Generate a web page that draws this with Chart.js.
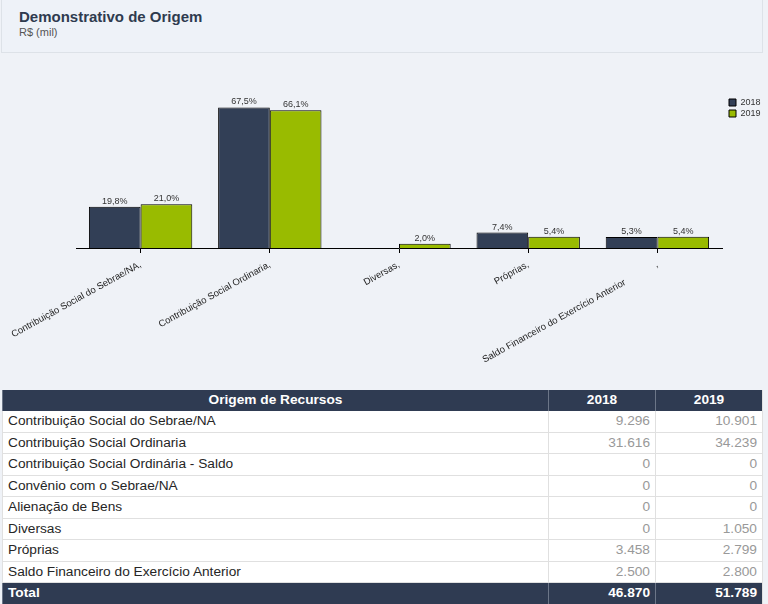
<!DOCTYPE html>
<html>
<head>
<meta charset="utf-8">
<script src="https://cdn.jsdelivr.net/npm/chart.js@4/dist/chart.umd.min.js"></script>
<style>
  html, body { margin: 0; padding: 0; }
  body { width: 768px; height: 604px; background: #eff2f7; position: relative; overflow: hidden;
         font-family: "Liberation Sans", Arial, sans-serif; }
  #head { position: absolute; left: 1px; top: 0; width: 760px; height: 52px; background: #eef2f8;
          border: 1px solid #dde2e8; border-top: none; }
  #title { position: absolute; left: 17px; top: 8px; font-size: 15px; font-weight: bold; color: #2f3b4f; }
  #sub { position: absolute; left: 17px; top: 26px; font-size: 11px; color: #555; }
  #chartbox { position: absolute; left: 0; top: 56px; width: 768px; height: 330px; }
  #tbl { position: absolute; left: 2px; top: 390px; width: 761px; font-size: 13.7px; }
  .row { display: flex; height: 21.5px; box-sizing: border-box; background: #fff; border-bottom: 1px solid #e0e0e0; }
  .row div { box-sizing: border-box; line-height: 20.5px; padding: 0 5px; white-space: nowrap; overflow: hidden; }
  .c1 { width: 546px; border-left: 1px solid #e0e0e0; color: #262626; }
  .c2 { width: 107px; border-left: 1px solid #e0e0e0; text-align: right; color: #999; }
  .c3 { width: 108px; border-left: 1px solid #e0e0e0; border-right: 1px solid #e0e0e0; text-align: right; color: #999; }
  .hdr { background: #2f3b52; height: 21px; border-bottom: none; }
  .hdr div { color: #fff; font-weight: bold; text-align: center; border-left-color: #6c7688; }
  .tot { background: #2f3b52; border-bottom: none; }
  .tot div { color: #fff; font-weight: bold; border-left-color: #6c7688; }
</style>
</head>
<body>
<div id="head">
  <div id="title">Demonstrativo de Origem</div>
  <div id="sub">R$ (mil)</div>
</div>
<div id="chartbox"><canvas id="c" width="768" height="330"></canvas></div>
<div id="tbl"></div>
<script>
// ---- data ----
const seriesNames = ["2018", "2019"];
const tickLabels = [
  "Contribuição Social do Sebrae/NA,",
  "Contribuição Social Ordinaria,",
  "Diversas,",
  "Próprias,",
  "Saldo Financeiro do Exercício Anterior\u00a0\u00a0\u00a0\u00a0\u00a0\u00a0\u00a0\u00a0\u00a0\u00a0\u00a0\u00a0\u00a0,"
];
const pct2018 = [19.8, 67.5, 0, 7.4, 5.3];
const pct2019 = [21.0, 66.1, 2.0, 5.4, 5.4];

const tableHeader = ["Origem de Recursos", "2018", "2019"];
const tableRows = [
  "Contribuição Social do Sebrae/NA",
  "Contribuição Social Ordinaria",
  "Contribuição Social Ordinária - Saldo",
  "Convênio com o Sebrae/NA",
  "Alienação de Bens",
  "Diversas",
  "Próprias",
  "Saldo Financeiro do Exercício Anterior"
];
const values2018 = ["9.296", "31.616", "0", "0", "0", "0", "3.458", "2.500"];
const values2019 = ["10.901", "34.239", "0", "0", "0", "1.050", "2.799", "2.800"];
const totals = ["Total", "46.870", "51.789"];

// ---- table ----
(function buildTable() {
  const t = document.getElementById('tbl');
  function row(cls, cells) {
    const r = document.createElement('div');
    r.className = 'row ' + cls;
    cells.forEach((txt, i) => {
      const d = document.createElement('div');
      d.className = 'c' + (i + 1);
      d.textContent = txt;
      r.appendChild(d);
    });
    t.appendChild(r);
  }
  row('hdr', tableHeader);
  tableRows.forEach((name, i) => row('', [name, values2018[i], values2019[i]]));
  row('tot', totals);
  const tr = t.lastChild.children;
  tr[0].style.textAlign = 'left';
})();

// ---- chart ----
const FONT = '"Liberation Sans", Arial, sans-serif';
Chart.defaults.font.family = FONT;
Chart.defaults.color = '#333';

const valueLabels = {
  id: 'valueLabels',
  afterDatasetsDraw(chart) {
    const ctx = chart.ctx;
    ctx.save();
    ctx.font = '9px ' + FONT;
    ctx.fillStyle = '#333';
    ctx.textAlign = 'center';
    ctx.textBaseline = 'alphabetic';
    chart.data.datasets.forEach((ds, i) => {
      const meta = chart.getDatasetMeta(i);
      meta.data.forEach((bar, j) => {
        const v = ds.data[j];
        if (!v) return;
        ctx.fillText(v.toFixed(1).replace('.', ',') + '%', bar.x, bar.y - 3);
      });
    });
    ctx.restore();
  }
};

new Chart(document.getElementById('c'), {
  type: 'bar',
  data: {
    labels: tickLabels,
    datasets: [
      { label: seriesNames[0], data: pct2018, backgroundColor: '#323f56', borderColor: '#000', borderWidth: 1,
        categoryPercentage: 0.8, barPercentage: 1.0 },
      { label: seriesNames[1], data: pct2019, backgroundColor: '#99bb00', borderColor: '#000', borderWidth: 1,
        categoryPercentage: 0.8, barPercentage: 1.0 }
    ]
  },
  options: {
    responsive: false,
    animation: false,
    devicePixelRatio: 1,
    layout: { padding: { left: 76, right: 0, top: 40, bottom: 0 } },
    plugins: {
      legend: {
        position: 'right',
        align: 'start',
        maxWidth: 41,
        labels: { boxWidth: 7, boxHeight: 7, padding: 2, color: '#333', font: { size: 9 } }
      },
      tooltip: { enabled: false }
    },
    scales: {
      x: {
        grid: { display: true, drawOnChartArea: false, drawTicks: true, tickLength: 5, color: '#000', offset: false },
        border: { display: true, color: '#000', width: 1 },
        ticks: { minRotation: 29, maxRotation: 29, autoSkip: false, padding: 6, color: '#222', font: { size: 9.5 } },
        afterFit(scale) { scale.height = 138; scale.paddingLeft = 0; scale.paddingRight = 0; }
      },
      y: {
        position: 'right',
        min: 0, max: 73,
        grid: { display: false },
        border: { display: false },
        ticks: { display: false },
        afterFit(scale) { scale.width = 5; }
      }
    }
  },
  plugins: [valueLabels]
});
</script>
</body>
</html>
